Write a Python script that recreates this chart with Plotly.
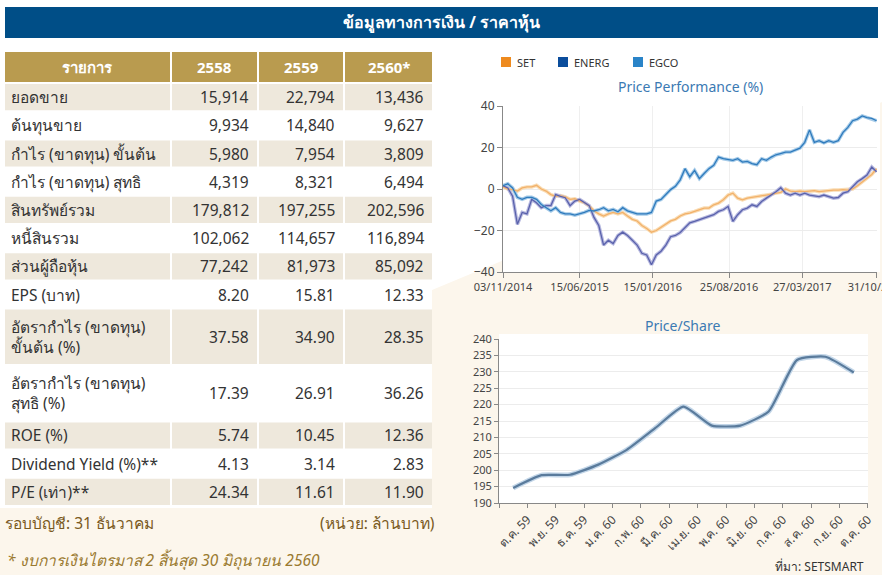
import plotly.graph_objects as go
import pandas as pd

W, H = 882, 575


def X(p):
    return p / W


def Y(p):
    return 1 - p / H


# ---------------- data ----------------
title_text = "ข้อมูลทางการเงิน / ราคาหุ้น"
table_header = ["รายการ", "2558", "2559", "2560*"]
row_labels = [
    "ยอดขาย", "ต้นทุนขาย", "กำไร (ขาดทุน) ขั้นต้น", "กำไร (ขาดทุน) สุทธิ",
    "สินทรัพย์รวม", "หนี้สินรวม", "ส่วนผู้ถือหุ้น", "EPS (บาท)",
    "อัตรากำไร (ขาดทุน)<br>ขั้นต้น (%)", "อัตรากำไร (ขาดทุน)<br>สุทธิ (%)",
    "ROE (%)", "Dividend Yield (%)**", "P/E (เท่า)**",
]
val_2558 = ["15,914", "9,934", "5,980", "4,319", "179,812", "102,062", "77,242",
            "8.20", "37.58", "17.39", "5.74", "4.13", "24.34"]
val_2559 = ["22,794", "14,840", "7,954", "8,321", "197,255", "114,657", "81,973",
            "15.81", "34.90", "26.91", "10.45", "3.14", "11.61"]
val_2560 = ["13,436", "9,627", "3,809", "6,494", "202,596", "116,894", "85,092",
            "12.33", "28.35", "36.26", "12.36", "2.83", "11.90"]
row_lines = [1, 1, 1, 1, 1, 1, 1, 1, 2, 2, 1, 1, 1]

perf_dates = pd.date_range("2014-11-03", periods=79, freq="14D")
set_perf = [1, 0, -0.3, -1, 0.5, 1, 1, 1.8, 0, -1, -2.7, -3.5, -3.2, -3.8, -5, -4.7,
            -5.8, -6.6, -8.2, -10.5, -12, -13, -12, -11.3, -12, -11.3, -13, -14.6,
            -15.4, -17.6, -19, -20.8, -20, -18.4, -17, -15.4, -14.6, -13, -12, -11.6,
            -10.8, -10, -9.2, -9.2, -7.6, -6.8, -5.2, -2.9, -2, -4.4, -5.2, -4.4,
            -4.1, -3.7, -3.2, -2.9, -2.5, -2, -1.6, 0, -1, -1.3, -1, -1.3, -1, -0.8,
            -1.3, -1, -0.6, -0.5, -0.5, -0.3, -0.5, 0, 1.6, 3.5, 5, 7, 9.8][:79]
energ_perf = [1.6, 0.5, -3.5, -17, -11.3, -12, -5, -6.6, -9, -8, -8, -2.7, -3.5,
              -4.2, -8, -5.8, -5, -6.6, -8, -13.7, -17.6, -27, -24.7, -26.3, -22.4,
              -20.8, -22.4, -24.7, -27, -31, -31.8, -36.5, -31.8, -30, -27, -23,
              -22.4, -21, -18.4, -16.3, -15.6, -14.8, -14, -13.2, -12.4, -10.8, -10,
              -8.4, -15.6, -12.4, -10, -9.2, -7.6, -8.4, -6, -4.4, -2.9, -1.3, 0.6,
              -2, -2.9, -2, -2.9, -2, -2.9, -3.2, -3.7, -2.9, -3.7, -4.4, -4.1, -2,
              -1.3, 1.1, 3.5, 5, 6.7, 10.6, 8.3]
egco_perf = [1.6, 2.5, 0.5, -4, -5, -4, -4, -5, -7.5, -9, -10.5, -9, -11.3, -12,
             -12, -12.6, -12, -11.3, -10.3, -10.6, -10, -9, -10.5, -9.8, -11, -9,
             -10.5, -11.3, -12, -12, -12, -11.3, -5.8, -5, -2.7, -0.3, 1.3, 4.4, 9.8,
             5.9, 9, 5, 7.5, 9.8, 11.4, 15.4, 14.6, 14.3, 13.8, 14.6, 13, 13.3, 12.2,
             11.7, 14.6, 13.8, 15.4, 16.5, 17, 17.8, 17.8, 18.6, 19.7, 22.5, 28.5,
             22.5, 23.3, 22.2, 23.3, 22.5, 23.3, 27.3, 29.7, 32.9, 33.7, 35.2, 34.4,
             34, 32.9]
series_names = ["SET", "ENERG", "EGCO"]
perf_tick_vals = ["2014-11-03", "2015-06-15", "2016-01-15", "2016-08-25",
                  "2017-03-27", "2017-10-31"]
perf_tick_text = ["03/11/2014", "15/06/2015", "15/01/2016", "25/08/2016",
                  "27/03/2017", "31/10/2017"]

price_months = ["ต.ค. 59", "พ.ย. 59", "ธ.ค. 59", "ม.ค. 60", "ก.พ. 60", "มี.ค. 60",
                "เม.ย. 60", "พ.ค. 60", "มิ.ย. 60", "ก.ค. 60", "ส.ค. 60", "ก.ย. 60",
                "ต.ค. 60"]
price_values = [194.6, 198.5, 198.6, 201.7, 206.2, 212.8, 219.4, 213.6, 213.6,
                217.9, 233.6, 234.6, 229.8]

# ---------------- styles ----------------
FONT = "Noto Sans, DejaVu Sans, sans-serif"
NAVY = "#004e87"
GOLD = "#b99b4f"
ROW_BEIGE = "#eee8dc"
BG_BEIGE = "#fcf6ec"
line_core = {"SET": "#f2b16a", "ENERG": "#5a62ac", "EGCO": "#2f7bbd"}
line_halo = {"SET": "#f9dcb4", "ENERG": "#b7b9df", "EGCO": "#a6cbe8"}
legend_sq = {"SET": "#ee8a1e", "ENERG": "#0b4d9c", "EGCO": "#2a84c8"}

shapes = []
annotations = []

# beige background polygon
shapes.append(dict(type="path", xref="paper", yref="paper", layer="below",
                   path=f"M {X(0)},{Y(508)} L {X(432)},{Y(508)} L {X(432)},{Y(290)} "
                        f"L {X(882)},{Y(102)} L {X(882)},{Y(575)} L {X(0)},{Y(575)} Z",
                   fillcolor=BG_BEIGE, line=dict(width=0)))
# white plot areas
for (x0, y0, x1, y1) in [(503, 100, 880, 272), (499, 334, 868, 503)]:
    shapes.append(dict(type="rect", xref="paper", yref="paper", layer="below",
                       x0=X(x0), x1=X(x1), y0=Y(y1), y1=Y(y0),
                       fillcolor="white", line=dict(width=0)))

# title bar
shapes.append(dict(type="rect", xref="paper", yref="paper", layer="below",
                   x0=X(5), x1=X(878), y0=Y(38), y1=Y(7),
                   fillcolor=NAVY, line=dict(width=0)))
annotations.append(dict(text=f"<b>{title_text}</b>", x=X(442), y=Y(22.5), xref="paper",
                        yref="paper", showarrow=False, xanchor="center", yanchor="middle",
                        font=dict(family=FONT, size=16, color="white")))

# table
col_edges = [(5, 170), (172, 257), (259, 343), (345, 432)]
hdr_top, hdr_bot = 52, 82
for ci, (c0, c1) in enumerate(col_edges):
    shapes.append(dict(type="rect", xref="paper", yref="paper", layer="below",
                       x0=X(c0), x1=X(c1), y0=Y(hdr_bot), y1=Y(hdr_top),
                       fillcolor=GOLD, line=dict(width=0)))
    annotations.append(dict(text=f"<b>{table_header[ci]}</b>", x=X((c0 + c1) / 2),
                            y=Y(67), xref="paper", yref="paper", showarrow=False,
                            xanchor="center", yanchor="middle",
                            font=dict(family=FONT, size=15, color="white")))

step = 28.2
top = 84.0
cols_vals = [val_2558, val_2559, val_2560]
for ri, label in enumerate(row_labels):
    h = step * row_lines[ri]
    bottom = top + h - 2
    fill = ROW_BEIGE if ri % 2 == 0 else "white"
    for (c0, c1) in col_edges:
        shapes.append(dict(type="rect", xref="paper", yref="paper", layer="below",
                           x0=X(c0), x1=X(c1), y0=Y(bottom), y1=Y(top),
                           fillcolor=fill, line=dict(width=0)))
    mid = (top + bottom) / 2
    annotations.append(dict(text=label, x=X(9), y=Y(mid), xref="paper", yref="paper",
                            showarrow=False, xanchor="left", yanchor="middle", align="left",
                            font=dict(family=FONT, size=15.5, color="#333333")))
    for ci, vals in enumerate(cols_vals):
        c1 = col_edges[ci + 1][1]
        annotations.append(dict(text=vals[ri], x=X(c1 - 6), y=Y(mid), xref="paper",
                                yref="paper", showarrow=False, xanchor="right",
                                yanchor="middle",
                                font=dict(family=FONT, size=15.5, color="#333333")))
    top += h

BROWN = "#7a5a22"
annotations.append(dict(text="รอบบัญชี: 31 ธันวาคม", x=X(3), y=Y(523), xref="paper",
                        yref="paper", showarrow=False, xanchor="left", yanchor="middle",
                        font=dict(family=FONT, size=15.5, color=BROWN)))
annotations.append(dict(text="(หน่วย: ล้านบาท)", x=X(437), y=Y(523), xref="paper",
                        yref="paper", showarrow=False, xanchor="right", yanchor="middle",
                        font=dict(family=FONT, size=15.5, color=BROWN)))
annotations.append(dict(text="<i>* งบการเงินไตรมาส 2 สิ้นสุด 30 มิถุนายน 2560</i>",
                        x=X(5), y=Y(560), xref="paper", yref="paper", showarrow=False,
                        xanchor="left", yanchor="middle",
                        font=dict(family=FONT, size=15.5, color="#9a7a30")))

# legend
leg_x = [501, 558, 633]
for name, lx in zip(series_names, leg_x):
    shapes.append(dict(type="rect", xref="paper", yref="paper",
                       x0=X(lx), x1=X(lx + 10), y0=Y(67), y1=Y(57),
                       fillcolor=legend_sq[name], line=dict(width=0)))
    annotations.append(dict(text=name, x=X(lx + 14), y=Y(62), xref="paper", yref="paper",
                            showarrow=False, xanchor="left", yanchor="middle",
                            font=dict(family=FONT, size=11, color="#333333")))

annotations.append(dict(text="Price Performance (%)", x=X(690), y=Y(87), xref="paper",
                        yref="paper", showarrow=False, xanchor="center", yanchor="middle",
                        font=dict(family=FONT, size=14, color="#3b7ab3")))
annotations.append(dict(text="Price/Share", x=X(682), y=Y(325), xref="paper",
                        yref="paper", showarrow=False, xanchor="center", yanchor="middle",
                        font=dict(family=FONT, size=14, color="#3b7ab3")))
annotations.append(dict(text="ที่มา: SETSMART", x=X(866), y=Y(566), xref="paper",
                        yref="paper", showarrow=False, xanchor="right", yanchor="middle",
                        font=dict(family=FONT, size=12, color="#333333")))

fig = go.Figure()

perf_data = {"SET": set_perf, "ENERG": energ_perf, "EGCO": egco_perf}
for name in ["SET", "ENERG", "EGCO"]:
    fig.add_trace(go.Scatter(x=perf_dates, y=perf_data[name], mode="lines",
                             line=dict(color=line_halo[name], width=3.5),
                             xaxis="x", yaxis="y", showlegend=False, hoverinfo="skip"))
for name in ["SET", "ENERG", "EGCO"]:
    fig.add_trace(go.Scatter(x=perf_dates, y=perf_data[name], mode="lines", name=name,
                             line=dict(color=line_core[name], width=1.3),
                             xaxis="x", yaxis="y", showlegend=False))

price_x = [i + 0.5 for i in range(len(price_months))]
fig.add_trace(go.Scatter(x=price_x, y=price_values, mode="lines",
                         line=dict(color="#c3d6e8", width=5, shape="spline", smoothing=0.5),
                         xaxis="x2", yaxis="y2", showlegend=False, hoverinfo="skip"))
fig.add_trace(go.Scatter(x=price_x, y=price_values, mode="lines", name="Price",
                         line=dict(color="#5a7b9c", width=2.2, shape="spline", smoothing=0.5),
                         xaxis="x2", yaxis="y2", showlegend=False))

axis_font = dict(family=FONT, size=12, color="#444444")
fig.update_layout(
    width=W, height=H, margin=dict(l=0, r=0, t=0, b=0, autoexpand=False),
    paper_bgcolor="white", plot_bgcolor="rgba(0,0,0,0)",
    shapes=shapes, annotations=annotations, showlegend=False,
    xaxis=dict(domain=[X(503), X(877)], anchor="y", type="date", automargin=False,
               range=["2014-11-03", "2017-10-31 06:00"], tickvals=perf_tick_vals,
               ticktext=perf_tick_text, showgrid=True, gridcolor="#efefef",
               showline=True, linecolor="#888888", linewidth=1, ticks="outside",
               ticklen=5, tickcolor="#888888", ticklabeloverflow="allow",
               tickfont=dict(family=FONT, size=11, color="#444444"), zeroline=False),
    yaxis=dict(domain=[Y(272), Y(106)], anchor="x", range=[-40, 40], automargin=False,
               tickvals=[-40, -20, 0, 20, 40], showgrid=True, gridcolor="#ececec",
               showline=True, linecolor="#888888", linewidth=1, ticks="outside",
               ticklen=5, tickcolor="#888888", tickfont=axis_font, zeroline=False),
    xaxis2=dict(domain=[X(499), X(868)], anchor="y2", range=[0, 13.001], automargin=False,
                tickvals=list(range(0, 14)), ticktext=[""] + price_months,
                tickangle=-45, showgrid=False, showline=True, linecolor="#888888",
                ticks="outside", ticklen=4, tickcolor="#888888", ticklabeloverflow="allow",
                tickfont=dict(family=FONT, size=12, color="#444444"), zeroline=False),
    yaxis2=dict(domain=[Y(503), Y(339)], anchor="x2", range=[190, 240], dtick=5,
                automargin=False,
                showgrid=True, gridcolor="#ececec", showline=True, linecolor="#888888",
                ticks="outside", ticklen=4, tickcolor="#888888",
                tickfont=dict(family=FONT, size=11, color="#444444"), zeroline=False),
)

fig.write_html("out.html", config={"displayModeBar": False},
               post_script="document.body.style.margin='0';document.body.style.padding='0';")
